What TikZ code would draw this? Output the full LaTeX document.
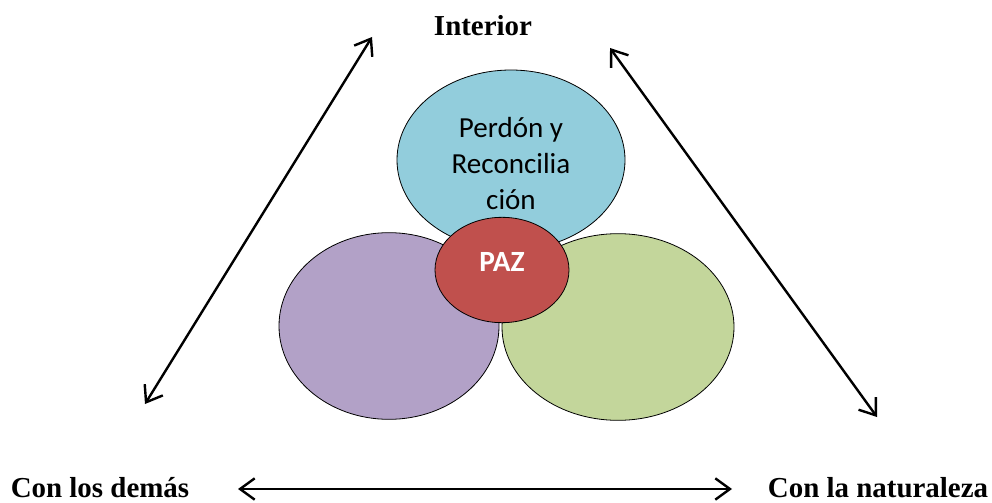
\documentclass[tikz,border=0pt]{standalone}
\usepackage{fontspec}
\setmainfont{Liberation Serif}
\newfontfamily\calibri{Carlito}
\usetikzlibrary{shapes.geometric,arrows.meta}
\definecolor{cblue}{HTML}{92CDDC}
\definecolor{cpurple}{HTML}{B2A1C7}
\definecolor{cgreen}{HTML}{C3D69B}
\definecolor{cred}{HTML}{C0504D}
\begin{document}
\begin{tikzpicture}[x=0.75pt,y=-0.75pt,
  blob/.style={ellipse, draw=black, line width=0.6pt, inner sep=0pt},
  dimlabel/.style={font=\bfseries\fontsize{21.7}{26}\selectfont, anchor=base, inner sep=0pt},
  twoway/.style={{Straight Barb[length=11pt,width=16pt]}-{Straight Barb[length=11pt,width=16pt]}, line width=1.8pt}]
\useasboundingbox (0,0) rectangle (992,503);
% circles
\node[blob, fill=cblue, minimum width=171pt, minimum height=135pt] (perdon) at (511,160) {};
\node[blob, fill=cpurple, minimum width=165pt, minimum height=140pt] (demas) at (389,326) {};
\node[blob, fill=cgreen, minimum width=174pt, minimum height=140pt] (natura) at (618,327) {};
\node[blob, fill=cred, minimum width=100.5pt, minimum height=79pt] (paz) at (502,270) {};
\node[align=center, font=\calibri\fontsize{21.8}{27}\selectfont, inner sep=0pt] (perdontxt) at (511,164) {Perdón y\\Reconcilia\\ción};
\node[font=\calibri\bfseries\fontsize{22}{25}\selectfont, text=white, inner sep=0pt] (paztxt) at (502,262) {PAZ};
% labels
\node[dimlabel] (interior) at (483,36) {Interior};
\node[dimlabel] (conlos) at (100,497) {Con los demás};
\node[dimlabel] (conla) at (878,497) {Con la naturaleza};
% arrow ends
\coordinate (la) at (145,404);
\coordinate (lb) at (372,37);
\coordinate (ra) at (610,48);
\coordinate (rb) at (877,417);
\coordinate (ha) at (238,489);
\coordinate (hb) at (732,489);
\draw[twoway] (la) -- (lb);
\draw[twoway] (ra) -- (rb);
\draw[twoway] (ha) -- (hb);
\end{tikzpicture}
\end{document}
